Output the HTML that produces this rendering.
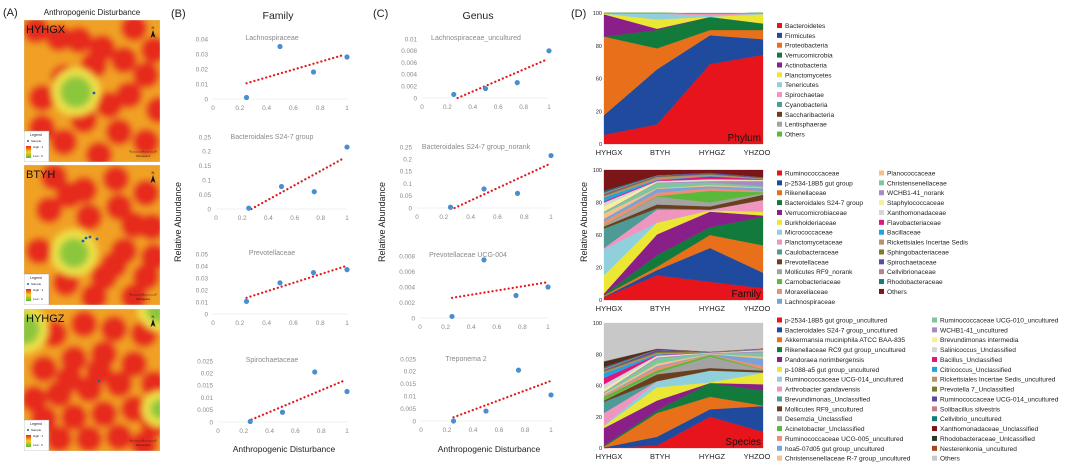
<!DOCTYPE html>
<html><head><meta charset="utf-8">
<style>
html,body{margin:0;padding:0;background:#fff;}
svg{display:block;font-family:"Liberation Sans",Arial,sans-serif;}
</style></head>
<body>
<svg id="fig" width="1080" height="465" viewBox="0 0 1080 465" xmlns="http://www.w3.org/2000/svg">
<defs>
<filter id="blur" x="-20%" y="-20%" width="140%" height="140%"><feGaussianBlur stdDeviation="3.5"/></filter>
<clipPath id="m1"><rect x="24" y="20" width="136" height="142"/></clipPath>
<clipPath id="m2"><rect x="24" y="165" width="136" height="140"/></clipPath>
<clipPath id="m3"><rect x="24" y="309" width="136" height="142"/></clipPath>
<linearGradient id="lg" x1="0" y1="0" x2="0" y2="1"><stop offset="0" stop-color="#e8261c"/><stop offset="0.5" stop-color="#f5d020"/><stop offset="1" stop-color="#5cb83a"/></linearGradient>
</defs>
<g id="root"></g>
</svg>
<script>
// ---------- chart data ----------
const xTicks=['0','0.2','0.4','0.6','0.8','1'];
const xVals=[0.25,0.5,0.75,1];
const bLachY=[0.001,0.035,0.018,0.028];
const bBactY=[0.003,0.078,0.06,0.215];
const bPrevY=[0.0105,0.026,0.0345,0.037];
const bSpirY=[0.0002,0.004,0.0205,0.0125];
const cLachY=[0.0006,0.0016,0.0026,0.008];
const cBactY=[0.003,0.078,0.06,0.215];
const cPrevY=[0.0002,0.0075,0.0029,0.004];
const cTrepY=[0.0,0.004,0.0205,0.0105];
const bLachTrend=[[0.25,0.0105],[0.98,0.0295]];
const bBactTrend=[[0.27,0],[0.97,0.175]];
const bPrevTrend=[[0.25,0.0135],[0.98,0.0395]];
const bSpirTrend=[[0.26,0.001],[0.98,0.017]];
const cLachTrend=[[0.28,0],[0.98,0.0065]];
const cBactTrend=[[0.28,0],[0.98,0.178]];
const cPrevTrend=[[0.25,0.0026],[0.99,0.0046]];
const cTrepTrend=[[0.25,0.0015],[0.99,0.016]];
const ticks04=['0','0.01','0.02','0.03','0.04'];
const ticks025=['0','0.05','0.1','0.15','0.2','0.25'];
const ticks05=['0','0.01','0.02','0.03','0.04','0.05'];
const ticks0025=['0','0.005','0.01','0.015','0.02','0.025'];
const ticks001=['0','0.002','0.004','0.006','0.008','0.01'];
const ticks0008=['0','0.002','0.004','0.006','0.008'];

const siteCats=['HYHGX','BTYH','HYHGZ','YHZOO'];
const areaTicks=['0','20','60','80','100'];
const phylumNames=['Bacteroidetes','Firmicutes','Proteobacteria','Verrucomicrobia','Actinobacteria','Planctomycetes','Tenericutes','Spirochaetae','Cyanobacteria','Saccharibacteria','Lentisphaerae','Others'];
const phylumColors=['#e8141c','#1f4a9e','#e8701a','#127a3a','#8b1f8a','#ece734','#8fd0dc','#ee96c0','#4e9a96','#6b3f1e','#a3a3a3','#5cb83a'];
const phylumVals=[
[7,15,61,68],[15,42,22,12],[60,16,4,7],[0,14,10,5],[17,1,0,0],[0.5,7,0,7],[0.5,4.5,1,0.5],[0,0.5,1.5,0.5],[0,0,0,0],[0,0,0,0],[0,0,0,0],[0,0,0.5,0]];

const familyNames=['Ruminococcaceae','p-2534-18B5 gut group','Rikenellaceae','Bacteroidales S24-7 group','Verrucomicrobiaceae','Burkholderiaceae','Micrococcaceae','Planctomycetaceae','Caulobacteraceae','Prevotellaceae','Mollicutes RF9_norank','Carnobacteriaceae','Moraxellaceae','Lachnospiraceae','Planococcaceae','Christensenellaceae','WCHB1-41_norank','Staphylococcaceae','Xanthomonadaceae','Flavobacteriaceae','Bacillaceae','Rickettsiales Incertae Sedis','Sphingobacteriaceae','Spirochaetaceae','Cellvibrionaceae','Rhodobacteraceae','Others'];
const familyColors=['#e8141c','#1f4a9e','#e8701a','#127a3a','#8b1f8a','#ece734','#8fd0dc','#ee96c0','#4e9a96','#6b3f1e','#a3a3a3','#5cb83a','#ef8e75','#7aa2d6','#f5c08a','#7cc79b','#a58bc6','#f6ef9c','#d6d6d6','#e0167a','#22a3e0','#b8926a','#7d7a2a','#5a49a0','#c07f8a','#137d7a','#7a1518'];
const familyVals=[
[2,19,14,9],[0.5,4,26,12],[1,2.5,10,21],[0.5,9,6,22],[1,16,12,1],[14,9,1,3],[20,0,0,0],[1,10,0.5,9],[15,1,0,0],[1.5,3,2.5,4],[0.5,6,3,1],[0.5,0.5,9,1],[3,2.5,2,1],[2,3,1.5,2],[4,0.5,1,0.5],[1,4,2,1],[0.5,0.5,1,4],[4,0.5,0.5,0.5],[3,0.5,1,0.5],[1,0.5,2,0.5],[3,0.5,0.5,0],[1,2,1,0.5],[1,0.5,0.5,0.3],[0.5,0.5,1,0.5],[1,0.3,0,0.2],[1.5,0.2,0,0],[16,4,2,5.5]];

const speciesNames=['p-2534-18B5 gut group_uncultured','Bacteroidales S24-7 group_uncultured','Akkermansia muciniphila ATCC BAA-835','Rikenellaceae RC9 gut group_uncultured','Pandoraea norimbergensis','p-1088-a5 gut group_uncultured','Ruminococcaceae UCG-014_uncultured','Arthrobacter gandavensis','Brevundimonas_Unclassified','Mollicutes RF9_uncultured','Desemzia_Unclassfied','Acinetobacter_Unclassified','Ruminococcaceae UCG-005_uncultured','hoa5-07d05 gut group_uncultured','Christensenellaceae R-7 group_uncultured','Ruminococcaceae UCG-010_uncultured','WCHB1-41_uncultured','Brevundimonas intermedia','Salinicoccus_Unclassified','Bacillus_Unclassified','Citricoccus_Unclassified','Rickettsiales Incertae Sedis_uncultured','Prevotella 7_Unclassified','Ruminococcaceae UCG-014_uncultured','Solibacillus silvestris','Cellvibrio_uncultured','Xanthomonadaceae_Unclassified','Rhodobacteraceae_Unlcassified','Nesterenkonia_uncultured','Others'];
const speciesColors=['#e8141c','#1f4a9e','#e8701a','#127a3a','#8b1f8a','#ece734','#8fd0dc','#ee96c0','#4e9a96','#6b3f1e','#a3a3a3','#5cb83a','#ef8e75','#7aa2d6','#f5c08a','#7cc79b','#a58bc6','#f6ef9c','#d6d6d6','#e0167a','#22a3e0','#b8926a','#7d7a2a','#5a49a0','#c07f8a','#137d7a','#7a1518','#2a3a26','#a8441e','#c8c8c8'];
const speciesVals=[
[0,2,25,13],[0.5,7,6,20.5],[0.5,19,10,0.5],[1,2,11,12],[14,8,0,5],[1.5,10.5,0.5,9],[0.5,4.5,9.5,0.5],[10,0.5,0,0],[9,0,0,0],[1,5.5,2,1.5],[0,1,9,0.5],[3,2,1.5,0.5],[1,2.5,0.3,2.5],[0.5,1,0.3,6],[1,2,0.3,1.5],[1,4,0.3,3.5],[0.5,1,0.2,1],[2,0.5,0.2,0.5],[4,1,0.2,0.5],[5,0.5,0.2,0.2],[4,0.5,0.2,0.2],[1,1,0.1,0.2],[1,1,0.1,0.2],[0.5,1.5,0.1,0.2],[1,0.2,0.1,0.1],[1.5,0.2,0,0.1],[2,0.2,0,0],[2,0.2,0,0],[0.5,0.2,0,0],[30.5,20.5,23.5,22]];

// ---------- helpers ----------
const NS='http://www.w3.org/2000/svg';
const root=document.getElementById('root');
function mk(tag,attrs,parent,text){const e=document.createElementNS(NS,tag);for(const k in attrs)e.setAttribute(k,attrs[k]);if(text!==undefined)e.textContent=text;(parent||root).appendChild(e);return e;}

function label(x,y,t,size,name,anchor,color,extra){const e=mk('text',Object.assign({x:x,y:y,'font-size':size,'text-anchor':anchor||'start',fill:color||'#222'},extra||{}),root,t);

return e;}
label(3,16,'(A)',11,'panel-a-label');
label(92,15,'Anthropogenic Disturbance',8,'panel-a-title','middle');
label(171,17,'(B)',11,'panel-b-label');
label(278,19,'Family',10.5,'panel-b-title','middle');
label(373,17,'(C)',11,'panel-c-label');
label(478,19,'Genus',10.5,'panel-c-title','middle');
label(571,17,'(D)',11,'panel-d-label');
label(284,452,'Anthropogenic Disturbance',8.5,'panel-b-x-axis-title','middle');
label(489,452,'Anthropogenic Disturbance',8.5,'panel-c-x-axis-title','middle');
label(181,222,'Relative   Abundance',9,'panel-b-y-axis-title','middle','#222',{transform:'rotate(-90 181 222)'});
label(385,222,'Relative   Abundance',9,'panel-c-y-axis-title','middle','#222',{transform:'rotate(-90 385 222)'});
label(587,222,'Relative   Abundance',9,'panel-d-y-axis-title','middle','#222',{transform:'rotate(-90 587 222)'});

// ---------- maps (panel A) ----------
const map1Red=[[12,10],[35,18],[78,28],[110,8],[130,30],[40,58],[70,45],[18,78],[60,100],[105,75],[122,55],[95,112],[40,122],[122,122],[18,108],[75,135],[100,40],[55,20],[135,90],[85,85]];
const map1Green=[[52,72,16]];
const map2Red=[[30,12],[60,25],[92,14],[122,28],[25,45],[65,52],[95,42],[128,62],[15,86],[100,86],[122,112],[80,112],[42,118],[110,132],[70,132],[130,92],[45,30],[110,60],[90,100],[10,130]];
const map2Green=[[50,88,15]];
const map3Red=[[30,25],[60,15],[90,20],[120,25],[20,60],[50,50],[80,45],[110,55],[130,75],[35,85],[65,80],[95,75],[20,110],[50,108],[80,105],[110,100],[130,115],[35,130],[65,130],[95,128],[120,135],[10,90],[75,62],[45,70]];
const map3Green=[[0,20,16],[136,0,14],[136,100,10]];
function drawMap(x0,y0,w,h,clip,name,red,green,dots){
  const g=mk('g',{'clip-path':'url(#'+clip+')'});
  
  
  mk('rect',{x:x0,y:y0,width:w,height:h,fill:'#f0c02e'},g);
  const bl=mk('g',{filter:'url(#blur)'},g);
  mk('rect',{x:x0-10,y:y0-10,width:w+20,height:h+20,fill:'#f08c22',opacity:0.6},bl);
  red.forEach(p=>mk('circle',{cx:x0+p[0],cy:y0+p[1],r:13,fill:'#e62a1c'},bl));
  green.forEach(p=>{mk('circle',{cx:x0+p[0],cy:y0+p[1],r:p[2]+8,fill:'#eee34a'},bl);mk('circle',{cx:x0+p[0],cy:y0+p[1],r:p[2],fill:'#8cc63c'},bl);});
  dots.forEach(p=>mk('circle',{cx:x0+p[0],cy:y0+p[1],r:1.4,fill:'#1f5fb0'},g));
  mk('text',{x:x0+2,y:y0+13,'font-size':11,fill:'#111'},g,name);
  mk('text',{x:x0+w-7,y:y0+9,'font-size':4,fill:'#111','text-anchor':'middle'},g,'N');
  mk('path',{d:`M${x0+w-7} ${y0+10} l-2.5 8 l2.5 -2 l2.5 2 z`,fill:'#111'},g);
  const lg=mk('g',{},g);
  
  
  mk('rect',{x:x0,y:y0+h-31,width:25,height:31,fill:'#fff',stroke:'#999','stroke-width':0.5},lg);
  mk('text',{x:x0+12,y:y0+h-26,'font-size':3.5,'text-anchor':'middle',fill:'#222'},lg,'Legend');
  mk('circle',{cx:x0+4,cy:y0+h-21,r:1,fill:'#1f5fb0'},lg);
  mk('text',{x:x0+7,y:y0+h-20,'font-size':3,fill:'#222'},lg,'Sample');
  mk('rect',{x:x0+2,y:y0+h-16,width:5,height:12,fill:'url(#lg)'},lg);
  mk('text',{x:x0+9,y:y0+h-14,'font-size':3,fill:'#222'},lg,'High : 1');
  mk('text',{x:x0+9,y:y0+h-5,'font-size':3,fill:'#222'},lg,'Low : 0');
  mk('path',{d:`M${x0+w-30} ${y0+h-10} h26 M${x0+w-30} ${y0+h-12} v2 M${x0+w-17} ${y0+h-12} v2 M${x0+w-4} ${y0+h-12} v2`,stroke:'#222','stroke-width':0.4,fill:'none'},g);
  mk('text',{x:x0+w-17,y:y0+h-5,'font-size':3,'text-anchor':'middle',fill:'#222'},g,'Kilometers');
  mk('rect',{x:x0,y:y0,width:w,height:h,fill:'none',stroke:'#ccc','stroke-width':0.5},g);
}
drawMap(24,20,136,142,'m1','HYHGX',map1Red,map1Green,[[70,73]]);
drawMap(24,165,136,140,'m2','BTYH',map2Red,map2Green,[[59,76],[62,73],[66,72],[73,74]]);
drawMap(24,309,136,142,'m3','HYHGZ',map3Red,map3Green,[[75,72]]);

// ---------- scatter plots ----------
function scatter(name,title,xl,xr,yTop,yBot,ticks,ys,trend,titleX,titleY){
  const ymax=parseFloat(ticks[ticks.length-1]);
  const sx=v=>xl+v*(xr-xl);
  const sy=v=>yBot-v/ymax*(yBot-yTop);
  const g=mk('g',{});
  
  
  const t=mk('text',{x:titleX,y:titleY,'font-size':7,fill:'#8a8a8a','text-anchor':'middle'},g,title);
  
  
  mk('line',{x1:xl,x2:xr,y1:yBot,y2:yBot,stroke:'#e4e4e4','stroke-width':0.6},g);
  ticks.forEach(tk=>{const v=parseFloat(tk);const e=mk('text',{x:xl-5,y:sy(v)+2.3,'font-size':6.3,fill:'#8a8a8a','text-anchor':'end'},g,tk);
    
    });
  xTicks.forEach(tk=>{const v=parseFloat(tk);const e=mk('text',{x:sx(v),y:yBot+11,'font-size':6.3,fill:'#8a8a8a','text-anchor':'middle'},g,tk);
    
    });
  const tl=mk('line',{x1:sx(trend[0][0]),y1:sy(trend[0][1]),x2:sx(trend[1][0]),y2:sy(trend[1][1]),stroke:'#e3171d','stroke-width':2.2,'stroke-dasharray':'0.1 4','stroke-linecap':'round'},g);
  
  
  xVals.forEach((xv,i)=>{const c=mk('circle',{cx:sx(xv),cy:sy(ys[i]),r:2.6,fill:'#4a8ed0'},g);
    
    });
}
scatter('lachnospiraceae-plot','Lachnospiraceae',213,347,39,99,ticks04,bLachY,bLachTrend,272,40);
scatter('s24-7-family-plot','Bacteroidales S24-7 group',216,347,137,209,ticks025,bBactY,bBactTrend,272,139);
scatter('prevotellaceae-plot','Prevotellaceae',213,347,254,314,ticks05,bPrevY,bPrevTrend,272,255);
scatter('spirochaetaceae-plot','Spirochaetaceae',218,347,361,422,ticks0025,bSpirY,bSpirTrend,272,362);
scatter('lachno-uncultured-plot','Lachnospiraceae_uncultured',422,549,39,98,ticks001,cLachY,cLachTrend,476,40);
scatter('s24-7-norank-plot','Bacteroidales S24-7 group_norank',417,551,147,208,ticks025,cBactY,cBactTrend,476,149);
scatter('prevotellaceae-ucg004-plot','Prevotellaceae UCG-004',420,548,256,318,ticks0008,cPrevY,cPrevTrend,468,257);
scatter('treponema-plot','Treponema 2',421,551,359,421,ticks0025,cTrepY,cTrepTrend,466,361);

// ---------- stacked area charts ----------
function area(name,label,xl,xr,yTop,yBot,names,colors,vals,legCols,legY,legRows){
  const sx=i=>xl+i*(xr-xl)/(siteCats.length-1);
  const sy=v=>yBot-v/100*(yBot-yTop);
  const g=mk('g',{});
  
  
  const cum=siteCats.map(()=>0);
  vals.forEach((arr,k)=>{
    const lo=cum.slice();const hi=cum.map((c,i)=>c+arr[i]);
    let d='';
    hi.forEach((v,i)=>{d+=(i?'L':'M')+sx(i)+' '+sy(Math.min(v,100))+' ';});
    for(let i=lo.length-1;i>=0;i--)d+='L'+sx(i)+' '+sy(Math.min(lo[i],100))+' ';
    const p=mk('path',{d:d+'Z',fill:colors[k],stroke:colors[k],'stroke-width':0.3},g);
    
    
    hi.forEach((v,i)=>cum[i]=v);
  });
  areaTicks.forEach((tk,i)=>{const e=mk('text',{x:xl-2,y:sy(i*25)+2,'font-size':5.5,fill:'#222','text-anchor':'end'},g,tk);
    
    });
  siteCats.forEach((c,i)=>{const e=mk('text',{x:[609,660,712,757][i],y:yBot+11,'font-size':7.5,fill:'#222','text-anchor':'middle'},g,c);
    
    });
  const lt=mk('text',{x:xr-2,y:yBot-3,'font-size':10,fill:'#111','text-anchor':'end'},g,label);
  
  
  names.forEach((n,k)=>{
    const col=Math.floor(k/legRows),row=k%legRows;
    const lx=legCols[col];const ly=legY+row*9.87;
    const it=mk('g',{},g);
    
    
    mk('rect',{x:lx,y:ly-5,width:5,height:5,fill:colors[k]},it);
    mk('text',{x:lx+8,y:ly,'font-size':6.6,fill:'#222'},it,n);
  });
}
area('phylum-chart','Phylum',604,763,13,144,phylumNames,phylumColors,phylumVals,[777],28,12);
area('family-chart','Family',604,763,170,300,familyNames,familyColors,familyVals,[777,879],175.5,14);
area('species-chart','Species',604,763,323,448,speciesNames,speciesColors,speciesVals,[777,932],322.5,15);
</script>
</body></html>
